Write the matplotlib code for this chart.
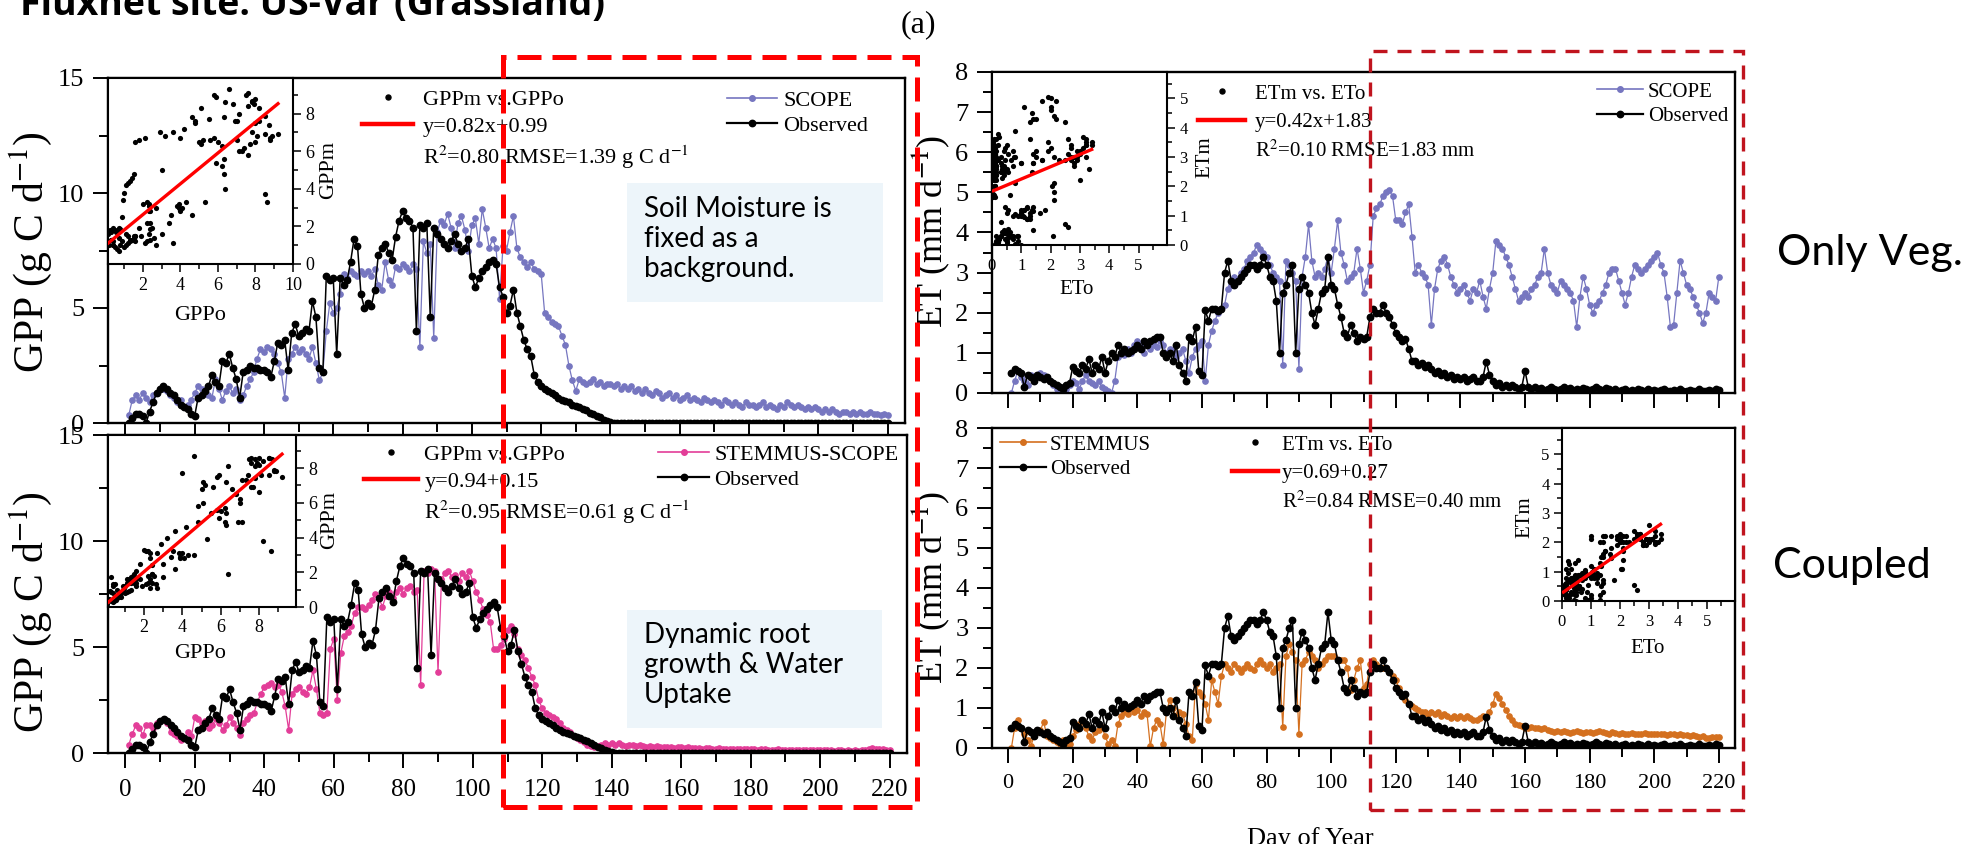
import matplotlib
matplotlib.use("Agg")
import matplotlib.pyplot as plt
from matplotlib.lines import Line2D
from matplotlib.patches import Rectangle
from matplotlib.ticker import MultipleLocator
import numpy as np

W, H = 1979, 844

plt.rcParams["font.family"] = ["Liberation Serif", "DejaVu Serif"]
plt.rcParams["mathtext.fontset"] = "stix"

DAYS = list(range(1, 221))

# daily GPP (g C d-1)
GPP_OBS = [
    0.0, 0.2, 0.4, 0.4, 0.3, 0.0, 0.5, 0.9, 1.3, 1.5,
    1.6, 1.5, 1.3, 1.2, 1.0, 0.8, 0.7, 0.6, 0.4, 0.3,
    1.1, 1.2, 1.4, 1.6, 2.1, 1.8, 1.6, 2.7, 2.6, 3.0,
    2.4, 1.9, 1.1, 2.2, 2.3, 2.5, 2.4, 2.4, 2.3, 2.3,
    2.2, 2.0, 2.7, 3.5, 3.4, 3.6, 2.3, 3.9, 4.3, 3.8,
    3.9, 4.1, 4.0, 5.3, 4.6, 2.4, 2.2, 6.4, 6.2, 6.3,
    3.0, 6.3, 6.0, 6.2, 7.0, 8.0, 7.7, 5.6, 5.0, 5.2,
    5.1, 5.8, 7.3, 7.6, 7.8, 7.4, 7.1, 8.1, 8.8, 9.2,
    8.9, 8.8, 8.5, 4.0, 8.6, 8.5, 8.7, 4.6, 8.5, 8.2,
    8.0, 7.8, 7.6, 7.9, 8.2, 7.8, 7.5, 7.6, 8.0, 6.4,
    5.9, 6.3, 6.6, 6.8, 7.0, 7.1, 6.9, 5.9, 5.5, 4.8,
    5.1, 5.8, 4.8, 4.2, 3.6, 3.2, 2.9, 2.1, 1.8, 1.6,
    1.5, 1.4, 1.3, 1.2, 1.1, 1.0, 0.95, 0.9, 0.8, 0.75,
    0.7, 0.6, 0.55, 0.45, 0.4, 0.3, 0.25, 0.15, 0.1, 0.05,
    0.0, 0.0, 0.0, 0.0, 0.0, 0.0, 0.0, 0.0, 0.0, 0.0,
    0.0, 0.0, 0.0, 0.0, 0.0, 0.0, 0.0, 0.0, 0.0, 0.0,
    0.0, 0.0, 0.0, 0.0, 0.0, 0.0, 0.0, 0.0, 0.0, 0.0,
    0.0, 0.0, 0.0, 0.0, 0.0, 0.0, 0.0, 0.0, 0.0, 0.0,
    0.0, 0.0, 0.0, 0.0, 0.0, 0.0, 0.0, 0.0, 0.0, 0.0,
    0.0, 0.0, 0.0, 0.0, 0.0, 0.0, 0.0, 0.0, 0.0, 0.0,
    0.0, 0.0, 0.0, 0.0, 0.0, 0.0, 0.0, 0.0, 0.0, 0.0,
    0.0, 0.0, 0.0, 0.0, 0.0, 0.0, 0.0, 0.0, 0.0, 0.0,
]

GPP_SCOPE = [
    0.35, 1.0, 1.2, 1.0, 1.3, 1.1, 0.9, 1.2, 1.3, 1.5,
    1.5, 1.4, 1.2, 1.1, 0.9, 1.0, 0.7, 0.8, 1.0, 1.3,
    1.6, 1.5, 1.3, 1.2, 1.1, 1.9, 1.5, 1.0, 1.4, 1.6,
    1.3, 1.5, 1.0, 1.2, 1.6, 1.9, 2.2, 2.8, 3.2, 3.1,
    3.3, 3.2, 3.0, 2.6, 2.2, 1.1, 2.8, 3.0, 3.3, 3.1,
    3.2, 3.0, 2.8, 3.3, 2.6, 1.85, 2.2, 4.0, 5.2, 4.8,
    5.0, 5.6, 6.5, 6.3, 6.6, 6.5, 6.4, 6.6, 6.5, 6.6,
    6.4, 6.7, 6.0, 5.8, 7.0, 6.2, 6.0, 6.8, 6.7, 6.9,
    6.8, 6.6, 6.9, 6.7, 3.3, 7.9, 7.4, 7.8, 3.7, 8.3,
    8.8, 8.6, 9.1, 8.5, 7.6, 8.7, 9.0, 8.4, 7.5, 8.6,
    8.9, 7.8, 9.3, 8.5, 7.6, 8.0, 7.6, 5.4, 7.7, 7.5,
    8.3, 9.0, 7.6, 7.2, 7.0, 6.8, 7.0, 6.7, 6.6, 6.5,
    4.8, 4.6, 4.4, 4.3, 4.2, 3.8, 3.4, 2.5, 1.85, 1.4,
    1.9, 1.8, 1.7, 1.8, 1.9, 1.7, 1.8, 1.6, 1.7, 1.7,
    1.6, 1.7, 1.5, 1.6, 1.5, 1.6, 1.4, 1.5, 1.3, 1.5,
    1.3, 1.2, 1.4, 1.3, 1.1, 1.2, 1.3, 1.1, 1.2, 1.0,
    1.1, 1.2, 1.0, 1.1, 1.0, 0.9, 1.1, 1.0, 0.9, 1.0,
    0.9, 0.8, 1.0, 0.9, 0.8, 0.9, 0.8, 0.7, 0.9, 0.8,
    0.8, 0.7, 0.8, 0.9, 0.7, 0.8, 0.7, 0.6, 0.8, 0.7,
    0.9, 0.8, 0.7, 0.8, 0.7, 0.6, 0.7, 0.6, 0.7, 0.6,
    0.5, 0.6, 0.5, 0.6, 0.5, 0.4, 0.5, 0.5, 0.4, 0.5,
    0.4, 0.5, 0.4, 0.4, 0.5, 0.4, 0.4, 0.35, 0.4, 0.35,
]

GPP_STEMMUS = [
    0.4, 0.9, 1.3, 1.2, 0.85, 1.3, 1.3, 1.2, 1.4, 1.5,
    1.6, 1.4, 1.0, 0.9, 0.8, 0.6, 0.7, 1.0, 0.8, 1.7,
    1.6, 1.4, 1.5, 1.2, 1.3, 1.6, 1.4, 1.1, 1.3, 1.7,
    1.4, 1.2, 0.85, 1.4, 1.6, 1.8, 1.9, 2.4, 2.8, 3.1,
    3.2, 3.3, 3.1, 3.2, 2.9, 2.2, 1.1, 2.8, 3.0, 3.1,
    2.9, 2.8, 3.1, 3.9, 3.0, 1.9, 1.8, 1.9, 4.9, 5.4,
    2.5, 4.7, 5.5, 5.7, 6.0, 6.6, 6.9, 6.9, 6.8, 7.0,
    7.2, 7.5, 7.3, 6.9, 7.4, 7.6, 7.3, 7.6, 7.8, 7.5,
    7.8, 7.9, 7.6, 7.7, 3.2, 8.6, 8.5, 8.7, 8.6, 3.8,
    8.2, 8.5, 8.6, 8.3, 8.4, 8.1, 8.5, 8.3, 8.6, 8.1,
    7.6, 7.2, 6.8, 6.5, 6.2, 4.9, 4.9, 5.1, 5.4, 5.8,
    6.0, 5.6, 4.9, 4.6, 4.4, 4.0, 3.6, 3.2, 2.5, 2.1,
    1.9, 1.8, 1.7, 1.6, 1.4, 1.2, 1.1, 1.0, 0.8, 0.7,
    0.6, 0.5, 0.4, 0.35, 0.3, 0.35, 0.4, 0.45, 0.4, 0.45,
    0.4, 0.45, 0.4, 0.35, 0.4, 0.38, 0.35, 0.4, 0.35, 0.3,
    0.35, 0.3, 0.32, 0.3, 0.28, 0.3, 0.3, 0.25, 0.3, 0.28,
    0.25, 0.3, 0.25, 0.22, 0.25, 0.2, 0.22, 0.25, 0.2, 0.2,
    0.22, 0.2, 0.18, 0.2, 0.2, 0.18, 0.2, 0.17, 0.18, 0.2,
    0.18, 0.15, 0.18, 0.17, 0.15, 0.16, 0.15, 0.17, 0.15, 0.14,
    0.15, 0.14, 0.15, 0.13, 0.14, 0.15, 0.13, 0.12, 0.14, 0.13,
    0.12, 0.13, 0.12, 0.11, 0.12, 0.12, 0.11, 0.12, 0.1, 0.12,
    0.11, 0.12, 0.15, 0.2, 0.22, 0.18, 0.2, 0.2, 0.15, 0.15,
]

# daily ET (mm d-1)
ET_OBS = [
    0.5, 0.6, 0.55, 0.5, 0.15, 0.45, 0.4, 0.3, 0.45, 0.4,
    0.35, 0.4, 0.3, 0.25, 0.2, 0.15, 0.1, 0.2, 0.25, 0.65,
    0.55, 0.5, 0.7, 0.6, 0.85, 0.5, 0.7, 0.6, 0.9, 0.5,
    0.8, 1.0, 0.9, 1.2, 1.0, 1.1, 1.0, 1.05, 1.1, 1.2,
    1.1, 1.3, 1.2, 1.3, 1.35, 1.4, 1.4, 1.0, 0.9, 1.0,
    0.8, 1.2, 0.7, 0.5, 0.3, 1.4, 1.3, 1.65, 0.55, 0.45,
    2.07, 1.8, 2.1, 2.1, 2.05, 2.1, 3.0, 3.3, 2.8, 2.7,
    2.8, 2.9, 3.0, 3.1, 3.2, 3.2, 3.1, 3.2, 3.4, 3.2,
    2.9, 2.8, 2.3, 1.0, 2.5, 2.7, 3.0, 3.2, 1.0, 2.6,
    2.9, 2.7, 2.5, 2.0, 1.7, 2.1, 2.5, 2.6, 3.4, 2.7,
    2.6, 2.2, 1.9, 1.5, 1.4, 1.7, 1.5, 1.3, 1.4, 1.35,
    1.4, 1.9, 2.1, 2.0, 2.0, 2.2, 2.0, 1.9, 1.7, 1.5,
    1.4, 1.3, 1.35, 1.1, 0.8, 0.8, 0.7, 0.75, 0.65, 0.7,
    0.6, 0.5, 0.55, 0.45, 0.5, 0.4, 0.45, 0.35, 0.4, 0.35,
    0.4, 0.3, 0.35, 0.4, 0.3, 0.3, 0.4, 0.78, 0.45, 0.3,
    0.2, 0.25, 0.15, 0.2, 0.15, 0.2, 0.15, 0.1, 0.15, 0.55,
    0.15, 0.1, 0.15, 0.1, 0.12, 0.08, 0.1, 0.15, 0.1, 0.08,
    0.1, 0.15, 0.1, 0.12, 0.08, 0.1, 0.08, 0.12, 0.1, 0.08,
    0.1, 0.15, 0.1, 0.08, 0.12, 0.1, 0.06, 0.1, 0.05, 0.08,
    0.1, 0.06, 0.08, 0.05, 0.1, 0.08, 0.06, 0.1, 0.05, 0.08,
    0.05, 0.08, 0.1, 0.06, 0.05, 0.08, 0.06, 0.1, 0.05, 0.06,
    0.08, 0.05, 0.06, 0.1, 0.05, 0.06, 0.08, 0.05, 0.1, 0.08,
]

ET_SCOPE = [
    0.0, 0.3, 0.55, 0.4, 0.3, 0.2, 0.45, 0.3, 0.4, 0.5,
    0.45, 0.4, 0.3, 0.2, 0.1, 0.15, 0.05, 0.1, 0.2, 0.3,
    0.25, 0.1, 0.3, 0.45, 0.3, 0.25, 0.2, 0.3, 0.15, 0.1,
    0.05, 0.0, 0.3, 0.9, 1.0, 0.95, 1.1, 1.0, 1.2, 1.3,
    1.2, 1.0, 1.25, 1.1, 1.2, 1.15, 1.3, 1.2, 1.0, 1.1,
    1.05, 0.9, 1.0, 1.1, 0.8, 0.5, 0.9, 1.1, 1.2, 1.3,
    0.3, 1.2, 1.55, 1.8, 2.0, 2.1, 2.2, 2.6, 2.7, 2.9,
    2.8, 3.0, 3.1, 3.3, 3.4, 3.5, 3.7, 3.6, 3.5, 3.4,
    3.2, 3.0, 2.9, 2.8, 0.7, 3.3, 3.2, 3.0, 2.8, 0.6,
    2.9, 3.4, 4.2, 3.3, 2.9, 3.0, 2.9, 3.1, 3.4, 3.0,
    3.6, 4.3, 3.5, 3.2, 2.8, 2.9, 3.0, 3.6, 3.1, 2.5,
    2.8, 3.2, 4.4, 4.6, 4.7, 4.9, 5.0, 5.05, 4.9, 4.3,
    4.3, 4.2, 4.5, 4.7, 3.9, 3.0, 3.2, 3.0, 2.9, 2.7,
    1.7, 2.6, 3.1, 3.3, 3.4, 3.2, 2.9, 2.7, 2.5, 2.6,
    2.7, 2.5, 2.3, 2.6, 2.5, 2.8, 2.4, 2.1, 2.6, 3.0,
    3.8, 3.7, 3.6, 3.4, 3.2, 2.9, 2.6, 2.3, 2.4, 2.5,
    2.4, 2.6, 2.7, 2.9, 3.0, 3.6, 3.0, 2.7, 2.6, 2.5,
    2.8, 2.7, 2.6, 2.5, 2.3, 1.65, 2.4, 2.9, 2.6, 2.2,
    2.0, 2.2, 2.3, 2.5, 2.7, 3.0, 3.1, 3.1, 2.8, 2.5,
    2.2, 2.5, 2.9, 3.2, 3.1, 3.0, 3.1, 3.2, 3.3, 3.4,
    3.5, 3.2, 3.0, 2.4, 1.65, 1.7, 2.5, 3.3, 3.0, 2.7,
    2.6, 2.4, 2.2, 2.0, 1.75, 2.0, 2.5, 2.4, 2.3, 2.9,
]

ET_STEMMUS = [
    0.0, 0.5, 0.7, 0.5, 0.36, 0.2, 0.04, 0.3, 0.4, 0.45,
    0.65, 0.3, 0.25, 0.2, 0.15, 0.1, 0.2, 0.04, 0.1, 0.3,
    0.45, 0.6, 0.7, 0.5, 0.3, 0.2, 0.4, 0.45, 0.53, 0.3,
    0.1, 0.2, 0.05, 0.6, 0.8, 0.9, 0.85, 1.0, 0.9, 0.95,
    0.8, 0.9, 0.85, 0.04, 0.5, 0.7, 0.6, 0.1, 0.9, 1.2,
    1.0, 0.8, 0.9, 0.85, 0.6, 0.3, 0.2, 1.6, 1.4, 1.3,
    1.1, 0.7, 1.7, 1.4, 1.1, 1.8, 2.1, 2.0, 1.9, 2.1,
    2.0, 1.9, 2.0, 2.1, 2.0, 1.95, 2.1, 2.2, 2.1, 2.0,
    2.1, 1.9, 2.0, 2.1, 0.53, 2.3, 2.6, 2.4, 2.2, 0.36,
    2.1, 2.2, 2.4, 2.3, 2.2, 2.0, 2.1, 2.2, 2.3, 2.3,
    2.3, 2.2, 2.2, 2.2, 2.0, 1.45, 1.7, 2.0, 2.2, 1.5,
    1.6, 2.1, 2.2, 2.1, 2.0, 2.0, 2.0, 1.9, 1.8, 1.7,
    1.5, 1.3, 1.2, 1.1, 1.05, 1.0, 0.95, 0.9, 0.9, 0.85,
    0.9, 0.85, 0.9, 0.8, 0.85, 0.8, 0.75, 0.8, 0.75, 0.8,
    0.75, 0.8, 0.75, 0.7, 0.7, 0.75, 0.8, 0.78, 0.9, 1.1,
    1.35, 1.25, 1.1, 0.95, 0.8, 0.7, 0.6, 0.58, 0.55, 0.5,
    0.5, 0.52, 0.5, 0.5, 0.48, 0.5, 0.45, 0.42, 0.4, 0.42,
    0.4, 0.42, 0.4, 0.38, 0.4, 0.42, 0.4, 0.38, 0.4, 0.4,
    0.38, 0.4, 0.42, 0.4, 0.38, 0.36, 0.4, 0.38, 0.35, 0.38,
    0.36, 0.35, 0.38, 0.36, 0.34, 0.36, 0.38, 0.35, 0.36, 0.34,
    0.35, 0.36, 0.34, 0.33, 0.35, 0.34, 0.32, 0.34, 0.33, 0.32,
    0.3, 0.32, 0.3, 0.28, 0.3, 0.26, 0.25, 0.28, 0.27, 0.28,
]

# regression lines printed in the insets: (slope, intercept)
FIT_GPP_SCOPE = (0.82, 0.99)
FIT_GPP_STEMMUS = (0.94, 0.15)
FIT_ET_SCOPE = (0.42, 1.83)
FIT_ET_STEMMUS = (0.69, 0.27)

STATS_GPP_SCOPE = ["GPPm vs.GPPo", "y=0.82x+0.99",
                   "R$^2$=0.80 RMSE=1.39 g C d$^{-1}$"]
STATS_GPP_STEMMUS = ["GPPm vs.GPPo", "y=0.94+0.15",
                     "R$^2$=0.95 RMSE=0.61 g C d$^{-1}$"]
STATS_ET_SCOPE = ["ETm vs. ETo", "y=0.42x+1.83", "R$^2$=0.10 RMSE=1.83 mm"]
STATS_ET_STEMMUS = ["ETm vs. ETo", "y=0.69+0.27", "R$^2$=0.84 RMSE=0.40 mm"]

C_SCOPE = "#7676c0"
C_STEMMUS_GPP = "#e33d98"
C_STEMMUS_ET = "#d4701f"

fig = plt.figure(figsize=(W / 100, H / 100), dpi=100)


def rect(l, t, r, b):
    return [l / W, 1 - b / H, (r - l) / W, (b - t) / H]


def fpt(x, y):
    return (x / W, 1 - y / H)


def main_panel(box, model, color, obs, ylim, ymaj, ymin, xlabels, xsize, ysize):
    ax = fig.add_axes(rect(*box))
    ax.plot(DAYS, model, color=color, lw=0.9, marker="o", ms=3.8,
            mec=color, mfc=color, zorder=2)
    ax.plot(DAYS, obs, color="black", lw=1.1, marker="o", ms=4.6, zorder=3)
    ax.set_xlim(-5, 225)
    ax.set_ylim(*ylim)
    ax.xaxis.set_major_locator(MultipleLocator(20))
    ax.xaxis.set_minor_locator(MultipleLocator(10))
    ax.yaxis.set_major_locator(MultipleLocator(ymaj))
    ax.yaxis.set_minor_locator(MultipleLocator(ymin))
    ax.tick_params(which="both", direction="out", width=1.4,
                   top=False, right=False)
    ax.tick_params(which="major", length=11, pad=6)
    ax.tick_params(which="minor", length=6.5)
    ax.tick_params(axis="y", labelsize=ysize)
    ax.tick_params(axis="x", labelsize=xsize, labelbottom=xlabels, pad=8)
    for s in ax.spines.values():
        s.set_linewidth(1.7)
    return ax


def inset(box, obs, model, fit, xlim, ylim, xmaj, xmin, ymaj, ymin,
          yright, xlabel, ylabel, xl_pos, yl_pos, lsize, tsize):
    ia = fig.add_axes(rect(*box))
    ia.scatter(obs, model, s=14, color="black", lw=0, zorder=3)
    xs = np.array([min(obs), max(obs)])
    ia.plot(xs, fit[0] * xs + fit[1], color="red", lw=2.4, zorder=4)
    ia.set_xlim(*xlim)
    ia.set_ylim(*ylim)
    ia.xaxis.set_major_locator(MultipleLocator(xmaj))
    ia.xaxis.set_minor_locator(MultipleLocator(xmin))
    ia.yaxis.set_major_locator(MultipleLocator(ymaj))
    ia.yaxis.set_minor_locator(MultipleLocator(ymin))
    if yright:
        ia.yaxis.tick_right()
    ia.tick_params(which="both", direction="out", width=1.1, labelsize=tsize)
    ia.tick_params(which="major", length=6, pad=3)
    ia.tick_params(which="minor", length=3.5)
    for s in ia.spines.values():
        s.set_linewidth(1.5)
    ia.text(*xl_pos, xlabel, transform=ia.transAxes, ha="center",
            va="center", fontsize=lsize)
    ia.text(*yl_pos, ylabel, transform=ia.transAxes, ha="center",
            va="center", rotation=90, fontsize=lsize)
    return ia


def legend(handles, labels, x, y, size, hl, pad, spacing):
    fig.legend(handles, labels, loc="upper left", bbox_to_anchor=fpt(x, y),
               bbox_transform=fig.transFigure, frameon=False, borderpad=0,
               borderaxespad=0, handlelength=hl, handletextpad=pad,
               labelspacing=spacing, numpoints=1, prop={"size": size})


def series_handle(color, lw, ms):
    return Line2D([], [], color=color, lw=lw, marker="o", ms=ms,
                  mec=color, mfc=color)


def stats_handles():
    return [Line2D([], [], ls="none", marker="o", ms=3.6, color="black"),
            Line2D([], [], color="red", lw=3.2),
            Line2D([], [], ls="none")]


# ---- GPP panels (left)
ax_tl = main_panel((108, 78, 905, 423), GPP_SCOPE, C_SCOPE, GPP_OBS,
                   (0, 15), 5, 2.5, False, 18, 19)
ax_bl = main_panel((108, 435, 907, 753), GPP_STEMMUS, C_STEMMUS_GPP, GPP_OBS,
                   (0, 15), 5, 2.5, True, 18, 19)

inset((108, 78, 293, 264), GPP_OBS, GPP_SCOPE, FIT_GPP_SCOPE,
      (0.14, 10.0), (0, 9.9), 2, 1, 2, 1, True, "GPPo", "GPPm",
      (0.497, -0.275), (1.19, 0.505), 16, 13)
inset((108, 435, 296, 607), GPP_OBS, GPP_STEMMUS, FIT_GPP_STEMMUS,
      (0.12, 9.93), (0, 9.9), 2, 1, 2, 1, True, "GPPo", "GPPm",
      (0.49, -0.27), (1.18, 0.506), 16, 13)

# ---- ET panels (right)
ax_tr = main_panel((992, 72, 1735, 393), ET_SCOPE, C_SCOPE, ET_OBS,
                   (0, 8), 1, 0.5, False, 16, 19)
ax_br = main_panel((992, 428, 1735, 748), ET_STEMMUS, C_STEMMUS_ET, ET_OBS,
                   (0, 8), 1, 0.5, True, 16, 19)

inset((992, 72, 1167, 245), ET_OBS, ET_SCOPE, FIT_ET_SCOPE,
      (0, 5.97), (0, 5.9), 1, 0.5, 1, 0.5, True, "ETo", "ETm",
      (0.486, -0.26), (1.217, 0.51), 15, 12)
inset((1562, 428, 1735, 601), ET_OBS, ET_STEMMUS, FIT_ET_STEMMUS,
      (0, 5.97), (0, 5.9), 1, 0.5, 1, 0.5, False, "ETo", "ETm",
      (0.497, -0.272), (-0.214, 0.486), 15, 12)

# ---- legends
legend(stats_handles(), STATS_GPP_SCOPE, 362, 89, 16, 2.3, 0.45, 0.3)
legend([series_handle(C_SCOPE, 1.2, 4), series_handle("black", 1.6, 4.6)],
       ["SCOPE", "Observed"], 727, 90, 16, 2.27, 0.27, 0.2)
legend(stats_handles(), STATS_GPP_STEMMUS, 364, 444, 16, 2.45, 0.27, 0.3)
legend([series_handle(C_STEMMUS_GPP, 1.2, 4), series_handle("black", 1.6, 4.6)],
       ["STEMMUS-SCOPE", "Observed"], 658, 444, 16, 2.3, 0.23, 0.2)
legend(stats_handles(), STATS_ET_SCOPE, 1198, 84, 15, 2.26, 0.48, 0.42)
legend([series_handle(C_SCOPE, 1.2, 4), series_handle("black", 1.6, 4.6)],
       ["SCOPE", "Observed"], 1597, 82, 15, 2.2, 0.25, 0.25)
legend([series_handle(C_STEMMUS_ET, 1.2, 4), series_handle("black", 1.6, 4.6)],
       ["STEMMUS", "Observed"], 1000, 435, 15, 2.2, 0.2, 0.25)
legend(stats_handles(), STATS_ET_STEMMUS, 1232, 435, 15, 2.2, 0.2, 0.42)

# ---- axis labels and annotations
for y in (252, 612):
    fig.text(*fpt(31, y), "GPP (g C d$^{-1}$)", rotation=90, ha="center",
             va="center", fontsize=30)
for y in (232, 588):
    fig.text(*fpt(931, y), "ET (mm d$^{-1}$)", rotation=90, ha="center",
             va="center", fontsize=26)
fig.text(*fpt(1310, 845), "Day of Year", ha="center", va="baseline",
         fontsize=19)
fig.text(*fpt(918, 25), "(a)", ha="center", va="center", fontsize=23)
fig.text(*fpt(20, 15), "Fluxnet site: US-Var (Grassland)", ha="left",
         va="baseline", fontsize=27, fontweight="bold", family="Open Sans")

for (l, t, r, b), txt, top in [
        ((627, 183, 883, 302), "Soil Moisture is\nfixed as a\nbackground.", 196),
        ((627, 610, 882, 728), "Dynamic root\ngrowth & Water\nUptake", 622)]:
    fig.add_artist(Rectangle(fpt(l, b), (r - l) / W, (b - t) / H,
                             transform=fig.transFigure, facecolor="#edf5fa",
                             edgecolor="none", zorder=5))
    fig.text(*fpt(644, top), txt, ha="left", va="top", family="Lato",
             fontsize=20, linespacing=1.2, zorder=6)

fig.text(*fpt(1777, 253), "Only Veg.", ha="left", va="center", family="Lato",
         fontsize=31)
fig.text(*fpt(1773, 566), "Coupled", ha="left", va="center", family="Lato",
         fontsize=31)

# dashed highlight boxes
fig.add_artist(Rectangle(fpt(503, 807), (917 - 503) / W, (807 - 57) / H,
                         transform=fig.transFigure, fill=False,
                         edgecolor="#ff0000", lw=3.6,
                         linestyle=(0, (4.8, 2.2)), zorder=10))
fig.add_artist(Rectangle(fpt(1370, 810), (1743 - 1370) / W, (810 - 51) / H,
                         transform=fig.transFigure, fill=False,
                         edgecolor="#c0141e", lw=2.4,
                         linestyle=(0, (4.2, 3.0)), zorder=10))

fig.savefig("out.png", dpi=100)
